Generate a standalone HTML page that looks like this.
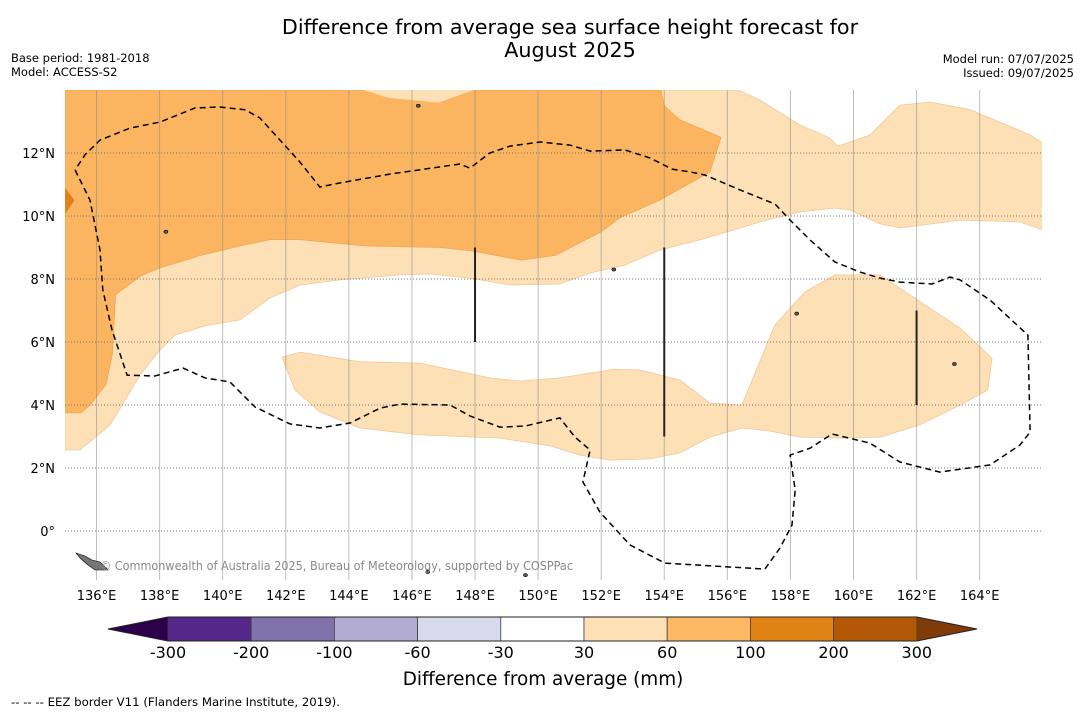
<!DOCTYPE html>
<html><head><meta charset="utf-8"><style>
body{margin:0;background:#fff;width:1085px;height:713px;overflow:hidden;font-family:"Liberation Sans","DejaVu Sans",sans-serif}
svg{display:block}
</style></head><body>
<svg id="chart" width="1085" height="713" xmlns="http://www.w3.org/2000/svg" font-family="DejaVu Sans, Liberation Sans, sans-serif">
<text x="570" y="34" font-size="20.7" text-anchor="middle">Difference from average sea surface height forecast for</text>
<text x="570" y="57" font-size="20.7" text-anchor="middle">August 2025</text>
<text x="11" y="62" font-size="11.5">Base period: 1981-2018</text>
<text x="11" y="76" font-size="11.5">Model: ACCESS-S2</text>
<text x="1074" y="63" font-size="11.5" text-anchor="end">Model run: 07/07/2025</text>
<text x="1074" y="77" font-size="11.5" text-anchor="end">Issued: 09/07/2025</text>
<defs><clipPath id="mapclip"><rect x="65" y="90" width="977" height="490"/></clipPath></defs>
<g id="map" clip-path="url(#mapclip)"></g>
<g id="axes"></g>
<g id="cbar"></g>
<text x="543" y="685" font-size="18.4" text-anchor="middle">Difference from average (mm)</text>
<text x="11" y="706" font-size="11.5" textLength="329" lengthAdjust="spacingAndGlyphs">--  --  -- EEZ border V11 (Flanders Marine Institute, 2019).</text>
</svg>
<script>
const NS="http://www.w3.org/2000/svg";
const lonTicks=[136,138,140,142,144,146,148,150,152,154,156,158,160,162,164];
const latTicks=[0,2,4,6,8,10,12];
const darkContour=[[135,14],[153.9,14],[154.0,13.5],[154.5,13.05],[155.8,12.5],[155.45,11.4],[153.85,10.5],[152.6,9.95],[152.0,9.5],[150.55,8.75],[149.45,8.6],[147.85,8.9],[146.9,9.0],[144.5,9.05],[142.45,9.25],[141.5,9.25],[140.55,9.05],[139.3,8.75],[138.0,8.35],[137.4,8.1],[136.6,7.5],[136.5,5.6],[136.3,4.65],[135.8,4.0],[135.5,3.75],[135,3.75]];
const lightPatchTop=[[144.45,14],[145.25,13.75],[146.85,13.6],[147.95,14]];
const darkestPatch=[[135,10.9],[135.3,10.5],[135,10.05]];
const lightNorth=[[135,14],[156.34,14],[157.04,13.68],[158.3,12.89],[159.25,12.48],[159.5,12.22],[160.52,12.57],[161.47,13.52],[162.43,13.62],[163.7,13.37],[164.64,12.98],[165.6,12.57],[166,12.32],[166,9.56],[165.28,9.81],[163.38,9.87],[161.47,9.62],[160.84,9.75],[159.89,10.19],[159.41,10.25],[158.3,10.13],[157.04,9.81],[156.4,9.62],[155.13,9.24],[153.86,8.92],[152.75,8.44],[151.65,8.19],[150.69,7.84],[149.1,7.81],[147.84,8.03],[146.57,8.16],[145.62,8.13],[143.72,7.97],[142.45,7.81],[141.5,7.4],[140.55,6.7],[139.44,6.51],[138.49,6.22],[138.01,5.75],[137.38,4.95],[136.43,3.37],[135.48,2.57],[135,2.57]];
const lightSouth=[[141.88,5.52],[142.45,5.68],[144.35,5.37],[146.26,5.33],[148.47,4.86],[149.43,4.76],[150.69,4.86],[152.44,5.14],[153.23,5.11],[154.5,4.79],[155.45,4.06],[156.46,4.0],[157.51,6.54],[158.46,7.59],[159.41,8.13],[160.84,8.13],[161.79,7.49],[163.38,6.44],[164.39,5.49],[164.26,4.48],[163.38,4.0],[162.11,3.37],[160.84,2.98],[159.57,2.95],[158.3,2.98],[157.35,3.17],[156.46,3.27],[155.45,2.98],[154.5,2.48],[153.55,2.29],[152.28,2.25],[151.33,2.41],[150.38,2.7],[148.79,2.95],[146.26,3.05],[144.35,3.27],[143.08,3.78],[142.29,4.48]];
const eezBorder=[[135.32,11.46],[135.79,10.51],[136.11,8.92],[136.2,7.65],[136.49,6.38],[136.97,4.95],[137.85,4.92],[138.74,5.17],[139.44,4.86],[140.23,4.73],[141.02,3.94],[142.13,3.4],[143.08,3.27],[144.04,3.43],[144.99,3.9],[145.62,4.03],[147.21,4.0],[147.84,3.65],[148.79,3.3],[149.58,3.33],[150.69,3.59],[151.17,2.98],[151.65,2.57],[151.42,1.56],[151.96,0.6],[152.91,-0.44],[154.02,-1.02],[157.19,-1.21],[157.67,-0.54],[158.05,0.19],[158.15,1.3],[157.99,2.41],[158.62,2.63],[159.32,3.08],[160.52,2.79],[161.47,2.19],[162.74,1.87],[164.33,2.1],[165.28,2.73],[165.6,3.14],[165.53,6.22],[164.33,7.33],[163.38,7.97],[163.06,8.06],[162.49,7.84],[161.47,7.9],[160.84,8.03],[160.21,8.22],[159.41,8.54],[158.62,9.24],[157.99,9.87],[157.51,10.38],[156.4,10.83],[155.29,11.3],[154.82,11.4],[154.25,11.49],[153.55,11.84],[152.75,12.1],[151.65,12.06],[151.01,12.25],[150.06,12.35],[149.11,12.22],[148.47,12.0],[147.84,11.52],[147.52,11.65],[146.89,11.56],[145.3,11.33],[143.72,11.05],[143.08,10.92],[142.45,11.71],[141.18,13.11],[140.71,13.37],[139.91,13.46],[139.12,13.43],[138.01,12.98],[137.06,12.79],[136.11,12.41],[135.63,11.94],[135.32,11.46]];
const lineLons=[148,154,162];
const lineLatTop=[9,9,7];
const lineLatBot=[6,3,4];
const islands=[[146.2,13.5],[138.2,9.5],[158.2,6.9],[163.2,5.3],[146.5,-1.3],[149.6,-1.4],[152.4,8.3]];
const cbarLabels=["-300","-200","-100","-60","-30","30","60","100","200","300"];
const cbarColors=["#542788","#8073ac","#b2abd2","#d8daeb","#ffffff","#fee0b6","#fdb863","#e08214","#b35806"];
const cbarLow="#2d004b", cbarHigh="#7f3b08";

const X=lon=>65+(lon-135)*31.54;
const Y=lat=>531-lat*31.5;
const pts=a=>a.map(p=>X(p[0]).toFixed(1)+","+Y(p[1]).toFixed(1)).join(" ");
const map=document.getElementById("map"), axes=document.getElementById("axes"), cb=document.getElementById("cbar");
function mk(tag,attrs,parent){const e=document.createElementNS(NS,tag);for(const k in attrs)e.setAttribute(k,attrs[k]);parent.appendChild(e);return e;}

let e;
e=mk("polygon",{points:pts(lightNorth),fill:"#fde0b6",stroke:"#f1c896","stroke-width":0.8},map);


e=mk("polygon",{points:pts(lightSouth),fill:"#fde0b6",stroke:"#f1c896","stroke-width":0.8},map);


e=mk("polygon",{points:pts(darkContour),fill:"#fbb561",stroke:"#eea652","stroke-width":0.8},map);


e=mk("polygon",{points:pts(lightPatchTop),fill:"#fde0b6"},map);


e=mk("polygon",{points:pts(darkestPatch),fill:"#e0821a"},map);



lonTicks.forEach(l=>{
  e=mk("line",{x1:X(l),x2:X(l),y1:90,y2:580,stroke:"#888","stroke-opacity":0.55,"stroke-width":1},map);
  
  
  e=mk("text",{x:X(l),y:600,"font-size":13,"text-anchor":"middle"},axes);e.textContent=l+"°E";
  
  
});
latTicks.forEach(l=>{
  e=mk("line",{x1:65,x2:1042,y1:Y(l),y2:Y(l),stroke:"#777","stroke-width":1,"stroke-dasharray":"1,2"},map);
  
  
  e=mk("text",{x:55,y:Y(l)+5,"font-size":13,"text-anchor":"end"},axes);e.textContent=l===0?"0°":l+"°N";
  
  
});
e=mk("polyline",{points:pts(eezBorder),fill:"none",stroke:"#000","stroke-width":1.5,"stroke-dasharray":"6,4"},map);


lineLons.forEach((l,i)=>{
  e=mk("line",{x1:X(l),x2:X(l),y1:Y(lineLatTop[i]),y2:Y(lineLatBot[i]),stroke:"#222","stroke-width":2},map);
  
  
});
islands.forEach(p=>{
  e=mk("ellipse",{cx:X(p[0]),cy:Y(p[1]),rx:2,ry:1.6,fill:"#555",stroke:"#000","stroke-width":0.6},map);
  
  
});
e=mk("polygon",{points:"76,553 85,556 92,560 100,562 108,570 95,570 88,565 80,558",fill:"#777",stroke:"#000","stroke-width":0.6},map);


e=mk("text",{x:100,y:570,"font-size":12,fill:"#888",textLength:473,lengthAdjust:"spacingAndGlyphs"},map);
e.textContent="© Commonwealth of Australia 2025, Bureau of Meteorology, supported by COSPPac";



// colorbar
const cx0=168, cw=83.2, cy=617, ch=24;
e=mk("polygon",{points:`108,${cy+ch/2} ${cx0},${cy} ${cx0},${cy+ch}`,fill:cbarLow},cb);


cbarColors.forEach((c,i)=>{
  e=mk("rect",{x:cx0+i*cw,y:cy,width:cw,height:ch,fill:c,stroke:"#444","stroke-width":0.8},cb);
  
  
});
const cx1=cx0+cbarColors.length*cw;
e=mk("polygon",{points:`${cx1},${cy} 977,${cy+ch/2} ${cx1},${cy+ch}`,fill:cbarHigh},cb);


mk("polygon",{points:`108,${cy+ch/2} ${cx0},${cy} ${cx1},${cy} 977,${cy+ch/2} ${cx1},${cy+ch} ${cx0},${cy+ch}`,fill:"none",stroke:"#222","stroke-width":1},cb);
cbarLabels.forEach((t,i)=>{
  e=mk("text",{x:cx0+i*cw,y:658,"font-size":16,"text-anchor":"middle"},cb);e.textContent=t;
  
  
});
</script>
</body></html>
